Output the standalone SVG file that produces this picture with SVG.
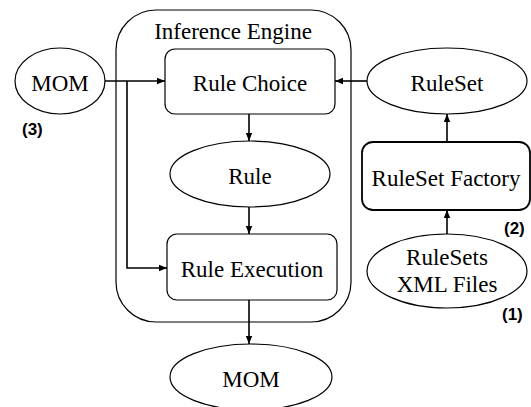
<svg xmlns="http://www.w3.org/2000/svg" width="531" height="407" viewBox="0 0 531 407">
<defs>
<style>
.shape{fill:#fff;stroke:#000;stroke-width:1.2}
.thick{stroke-width:1.8}
.t{font-family:"Liberation Serif","Times New Roman","DejaVu Serif",serif;font-size:23px;fill:#000;text-anchor:middle}
.lbl{font-family:"Liberation Sans",Arial,sans-serif;font-size:17px;font-weight:bold;fill:#000}
.c{fill:none;stroke:#000;stroke-width:1.6}
</style>
<marker id="arr" viewBox="0 0 8 8" refX="8" refY="4" markerWidth="8" markerHeight="8" markerUnits="userSpaceOnUse" orient="auto">
<path d="M0,0.8 L8,4 L0,7.2 z" fill="#000"/>
</marker>
</defs>
<rect width="531" height="407" fill="#fff"/>
<g id="inference-engine">
<rect class="shape" x="116" y="10" width="235" height="312" rx="40"/>
<text class="t" x="233" y="39">Inference Engine</text>
</g>
<g id="rule-choice">
<rect class="shape" x="165" y="49" width="170" height="65" rx="10"/>
<text class="t" x="250" y="91">Rule Choice</text>
</g>
<g id="rule">
<ellipse class="shape" cx="250" cy="174" rx="80" ry="33"/>
<text class="t" x="250" y="184">Rule</text>
</g>
<g id="rule-execution">
<rect class="shape" x="167" y="234" width="170" height="66" rx="10"/>
<text class="t" x="252" y="277">Rule Execution</text>
</g>
<g id="mom-in">
<ellipse class="shape" cx="60" cy="81" rx="45" ry="33"/>
<text class="t" x="60" y="91">MOM</text>
<text class="lbl" x="22" y="135">(3)</text>
</g>
<g id="mom-out">
<ellipse class="shape" cx="251" cy="377" rx="81" ry="33"/>
<text class="t" x="251" y="387">MOM</text>
</g>
<g id="ruleset">
<ellipse class="shape" cx="447" cy="81" rx="80" ry="33"/>
<text class="t" x="447" y="91">RuleSet</text>
</g>
<g id="ruleset-factory">
<rect class="shape thick" x="362" y="142" width="168" height="68" rx="11"/>
<text class="t" x="446" y="186">RuleSet Factory</text>
<text class="lbl" x="504" y="234">(2)</text>
</g>
<g id="rulesets-xml">
<ellipse class="shape" cx="447" cy="271" rx="80" ry="37"/>
<text class="t" x="447" y="265">RuleSets</text>
<text class="t" x="447" y="292">XML Files</text>
<text class="lbl" x="502" y="320">(1)</text>
</g>
<g id="connectors">
<line class="c" x1="105" y1="81" x2="165" y2="81" marker-end="url(#arr)"/>
<polyline class="c" points="127,81 127,268 167,268" marker-end="url(#arr)"/>
<line class="c" x1="367" y1="81" x2="335" y2="81" marker-end="url(#arr)"/>
<line class="c" x1="249" y1="114" x2="249" y2="141" marker-end="url(#arr)"/>
<line class="c" x1="249" y1="207" x2="249" y2="234" marker-end="url(#arr)"/>
<line class="c" x1="249" y1="300" x2="249" y2="344" marker-end="url(#arr)"/>
<line class="c" x1="447" y1="142" x2="447" y2="114" marker-end="url(#arr)"/>
<line class="c" x1="447" y1="234" x2="447" y2="210" marker-end="url(#arr)"/>
</g>
</svg>
